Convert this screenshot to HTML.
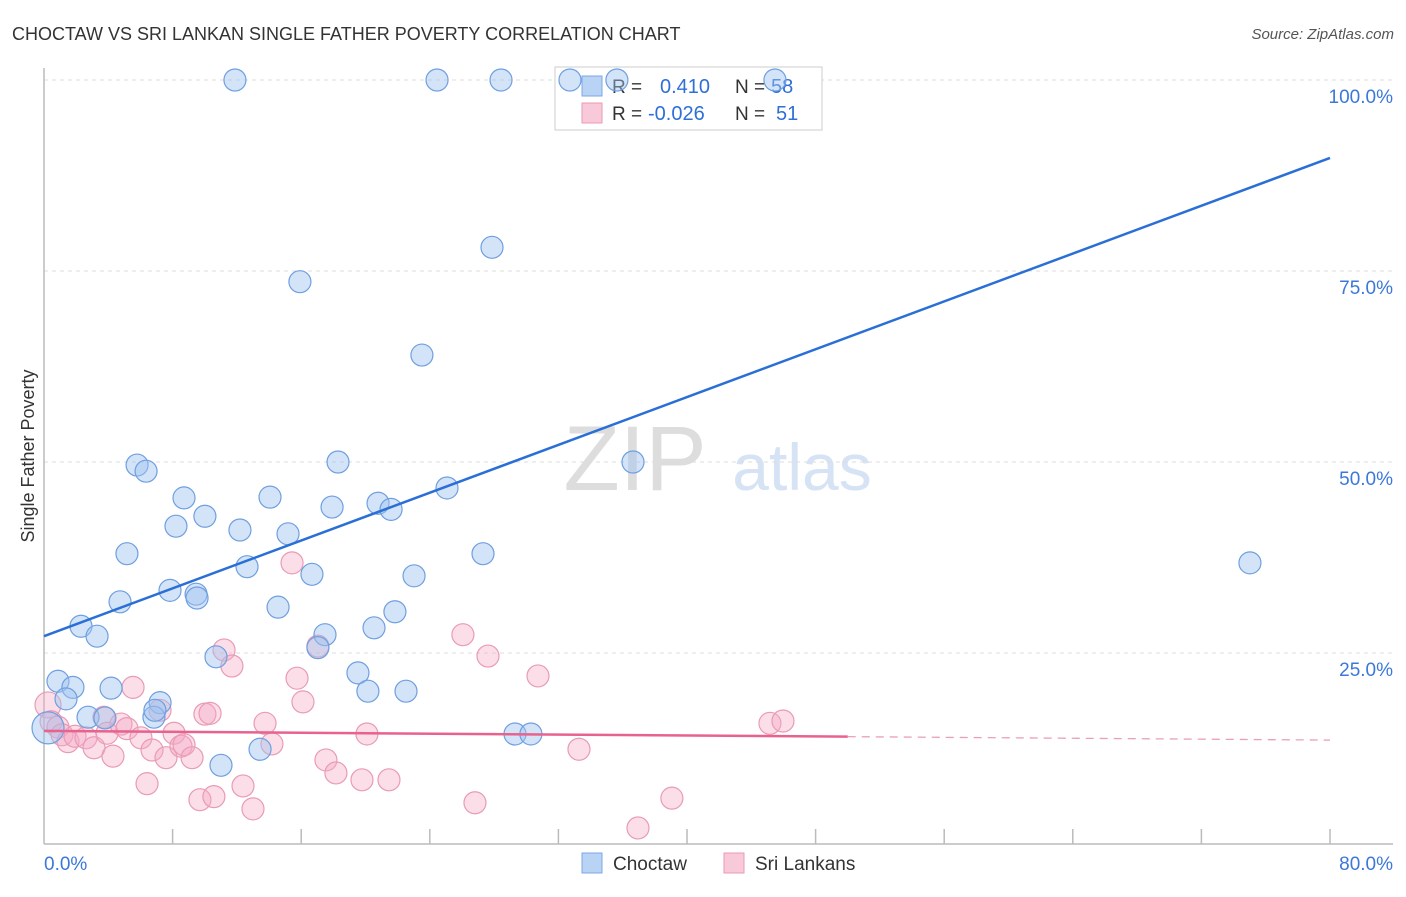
<!DOCTYPE html>
<html><head><meta charset="utf-8"><style>
body{margin:0;background:#fff;font-family:"Liberation Sans",sans-serif}
svg text{font-family:"Liberation Sans",sans-serif}
</style></head><body>
<svg id="c" width="1406" height="892" xmlns="http://www.w3.org/2000/svg">
<text x="12" y="40" font-size="18" fill="#333">CHOCTAW VS SRI LANKAN SINGLE FATHER POVERTY CORRELATION CHART</text>
<text x="1394" y="39" font-size="15" fill="#555" text-anchor="end" font-style="italic">Source: ZipAtlas.com</text>
<text x="34" y="456" font-size="18" fill="#333" text-anchor="middle" transform="rotate(-90 34 456)">Single Father Poverty</text>
<g><text x="635" y="490" font-size="92" fill="#ddd" text-anchor="middle" font-family="Liberation Serif">ZIP</text><text x="802" y="490" font-size="66" fill="#d5e3f5" text-anchor="middle">atlas</text></g>
<g id="grid"></g>
<g>
<rect x="555" y="67" width="267" height="63" fill="#fff" stroke="#ccc"/>
<rect x="582" y="76" width="20" height="20" fill="#b9d3f5" stroke="#7aa7e6"/>
<text x="612" y="93" font-size="19" fill="#333">R = </text><text x="660" y="93" font-size="20" fill="#2f6fd6">0.410</text>
<text x="735" y="93" font-size="19" fill="#333">N = </text><text x="771" y="93" font-size="20" fill="#2f6fd6">58</text>
<rect x="582" y="103" width="20" height="20" fill="#f8c9d8" stroke="#ea9ab4"/>
<text x="612" y="120" font-size="19" fill="#333">R = </text><text x="648" y="120" font-size="20" fill="#2f6fd6">-0.026</text>
<text x="735" y="120" font-size="19" fill="#333">N = </text><text x="776" y="120" font-size="20" fill="#2f6fd6">51</text>
</g>
<g id="pts"></g><g id="lines"></g>
<g>
<rect x="582" y="853" width="20" height="20" fill="#b9d3f5" stroke="#7aa7e6"/>
<text x="613" y="870" font-size="19" fill="#333">Choctaw</text>
<rect x="724" y="853" width="20" height="20" fill="#f8c9d8" stroke="#ea9ab4"/>
<text x="755" y="870" font-size="19" fill="#333">Sri Lankans</text>
</g>
</svg>
<script>
const xTickLabels=["0.0%","80.0%"];
const yTicks=[25,50,75,100];
const yTickLabels=["25.0%","50.0%","75.0%","100.0%"];
const choctawX=[11.88,24.45,28.43,32.72,35.64,45.47,27.87,15.92,23.51,5.79,6.35,18.29,36.64,8.71,14.06,25.07,17.92,20.78,21.59,10.01,8.21,12.19,15.18,5.16,27.31,75.02,12.63,16.67,23.02,7.84,9.46,9.52,4.73,14.56,21.83,2.30,3.30,20.53,17.48,17.04,10.70,19.53,0.87,1.80,4.17,20.15,22.52,1.37,7.22,2.74,3.79,6.84,29.30,30.29,13.44,11.01,6.90,0.25];
const choctawY=[100,100,100,100,100,100,78.1,73.6,64.0,49.6,48.8,50.0,50.0,45.3,45.4,46.6,44.1,44.6,43.8,42.9,41.6,41.1,40.6,38.0,38.0,36.8,36.3,35.3,35.1,33.2,32.7,32.2,31.7,31.0,30.4,28.5,27.2,28.3,27.4,25.7,24.5,22.4,21.3,20.5,20.4,20.0,20.0,19.0,18.5,16.6,16.5,16.6,14.4,14.4,12.4,10.3,17.5,15.2];
const sriX=[0.25,0.44,0.87,1.12,1.49,1.93,2.61,3.11,3.73,3.92,4.29,4.79,5.16,5.54,6.03,6.41,6.72,7.22,7.59,8.09,8.52,8.71,9.21,9.70,10.01,10.33,10.57,11.20,11.69,12.38,13.0,13.75,14.18,15.43,15.74,16.11,17.04,17.54,18.16,19.78,20.09,21.46,26.06,26.81,27.62,30.73,33.28,36.95,39.06,45.16,45.97];
const sriY=[18.2,16.0,15.3,14.3,13.4,14.1,13.9,12.6,16.6,14.5,11.5,15.7,15.1,20.5,13.9,7.9,12.3,17.5,11.3,14.5,12.8,13.0,11.3,5.8,17.0,17.1,6.2,25.4,23.3,7.6,4.6,15.8,13.1,36.8,21.7,18.6,25.9,11.0,9.3,8.4,14.4,8.4,27.4,5.4,24.6,22.0,12.4,2.1,6.0,15.8,16.1];
const choctawTrend=[27.2,89.8];
const sriTrend=[14.8,13.6];
const sriSolidEnd=50;
const X=v=>44+v/80*1286, Y=v=>844-v/100*764;
const NS="http://www.w3.org/2000/svg";
function mk(p,t,a){const e=document.createElementNS(NS,t);for(const k in a)e.setAttribute(k,a[k]);p.appendChild(e);return e;}
const g=document.getElementById('grid');
mk(g,'line',{x1:44,y1:80,x2:1393,y2:80,stroke:'#ddd','stroke-dasharray':'4,4'});
yTicks.forEach((t,i)=>{
 const l=mk(g,'line',{x1:44,y1:Y(t),x2:1393,y2:Y(t),stroke:'#ddd','stroke-dasharray':'4,4'});
 
 
 const tx=mk(g,'text',{x:1393,y:Y(t)+23,'font-size':19,fill:'#3b78d8','text-anchor':'end'});
 tx.textContent=yTickLabels[i];
 
 
});
mk(g,'line',{x1:44,y1:68,x2:44,y2:844,stroke:'#bbb','stroke-width':1.5});
mk(g,'line',{x1:44,y1:844,x2:1393,y2:844,stroke:'#bbb','stroke-width':1.5});
for(let i=1;i<=10;i++){mk(g,'line',{x1:X(i*8),y1:829,x2:X(i*8),y2:844,stroke:'#bbb','stroke-width':1.5});}
[[0,'start',44],[1,'end',1393]].forEach(([i,a,x])=>{
 const t=mk(g,'text',{x:x,y:870,'font-size':19,fill:'#3b78d8','text-anchor':a});
 t.textContent=xTickLabels[i];
 
 
});
const P=document.getElementById('pts');
sriX.forEach((v,i)=>{
 const c=mk(P,'circle',{cx:X(v),cy:Y(sriY[i]),r:i==0?13:11,fill:'rgba(244,168,194,0.38)',stroke:'#e99bb5','stroke-width':1.2});
 
 
});
choctawX.forEach((v,i)=>{
 const big=i==choctawX.length-1;
 const c=mk(P,'circle',{cx:X(v),cy:Y(choctawY[i]),r:big?16:11,fill:'rgba(160,196,240,0.45)',stroke:'#6f9fe0','stroke-width':1.2});
 
 
});
const L=document.getElementById('lines');
const b=mk(L,'line',{x1:X(0),y1:Y(choctawTrend[0]),x2:X(80),y2:Y(choctawTrend[1]),stroke:'#2a6fd6','stroke-width':2.5});


const ym=sriTrend[0]+(sriTrend[1]-sriTrend[0])*sriSolidEnd/80;
const p1=mk(L,'line',{x1:X(0),y1:Y(sriTrend[0]),x2:X(sriSolidEnd),y2:Y(ym),stroke:'#e8628e','stroke-width':2.5});


const p2=mk(L,'line',{x1:X(sriSolidEnd),y1:Y(ym),x2:X(80),y2:Y(sriTrend[1]),stroke:'#e8a0b8','stroke-width':1.3,'stroke-dasharray':'8,6'});


</script>
</body></html>
